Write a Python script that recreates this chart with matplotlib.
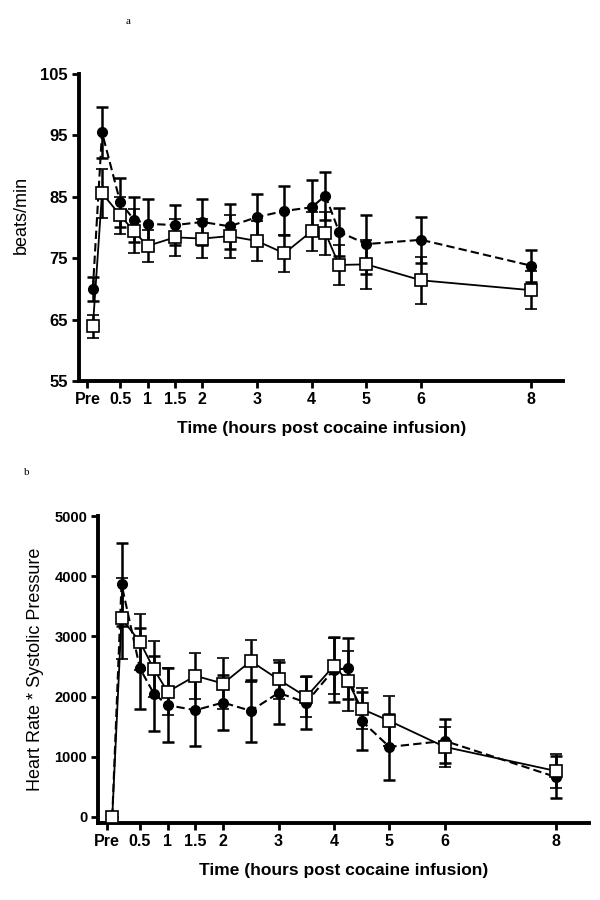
# Heart rate and rate-pressure product after cocaine infusion (panels a and b).
import matplotlib
matplotlib.use('Agg')
import matplotlib.pyplot as plt

# Time points (hours post infusion); 0 is the "Pre" sample.
Hours = [0, 0.167, 0.5, 0.75, 1, 1.5, 2, 2.5, 3, 3.5, 4, 4.25, 4.5, 5, 6, 8]

# Tick positions and labels on the time axis.
Tick_Hours = [-0.1, 0.5, 1, 1.5, 2, 3, 4, 5, 6, 8]
Tick_Labels = ['Pre', '0.5', '1', '1.5', '2', '3', '4', '5', '6', '8']

# Panel a: heart rate (beats/min), filled circles (dashed) and open squares (solid).
HR_Circle = [70.0, 95.5, 84.1, 81.3, 80.6, 80.4, 80.9, 80.2, 81.7, 82.7, 83.3, 85.2, 79.3, 77.3, 78.0, 73.8]
HR_Circle_Err = [2.0, 4.1, 4.0, 3.7, 4.1, 3.2, 3.7, 3.7, 3.8, 4.0, 4.5, 3.9, 3.9, 4.8, 3.7, 2.6]
HR_Square = [63.9, 85.6, 82.0, 79.4, 77.0, 78.4, 78.2, 78.6, 77.8, 75.8, 79.4, 79.1, 73.9, 74.0, 71.4, 69.8]
HR_Square_Err = [1.9, 4.0, 3.0, 3.6, 2.6, 3.0, 3.2, 3.5, 3.3, 3.0, 3.2, 3.5, 3.3, 4.0, 3.8, 3.1]
HR_Ticks = [55, 65, 75, 85, 95, 105]

# Panel b: heart rate * systolic pressure.
RPP_Circle = [0, 3869, 2467, 2051, 1857, 1774, 1901, 1763, 2062, 1901, 2450, 2467, 1596, 1164, 1264, 665]
RPP_Circle_Err = [0, 690, 665, 630, 610, 590, 450, 520, 510, 440, 545, 500, 480, 554, 360, 350]
RPP_Square = [0, 3298, 2910, 2456, 2079, 2345, 2217, 2589, 2284, 1996, 2511, 2256, 1796, 1596, 1164, 765]
RPP_Square_Err = [0, 680, 465, 470, 390, 385, 420, 350, 320, 330, 470, 500, 340, 410, 330, 280]
RPP_Ticks = [0, 1000, 2000, 3000, 4000, 5000]

plt.rcParams['font.family'] = ['Liberation Sans', 'DejaVu Sans']

fig = plt.figure(figsize=(6, 9), dpi=100)
ax_a = fig.add_axes([0.132, 0.5767, 0.807, 0.341])
ax_b = fig.add_axes([0.164, 0.0856, 0.8175, 0.341])


def draw_panel(ax, circ, circ_err, sq, sq_err, yticks, ytick_size):
    # Filled circles with dashed line.
    ax.errorbar(Hours, circ, yerr=circ_err, fmt='o', linestyle=(0, (4, 2)), color='black',
                markersize=7, markerfacecolor='black', linewidth=1.5, elinewidth=1.8,
                capsize=4, capthick=1.8, zorder=2)
    # Open squares with solid line.
    ax.errorbar(Hours, sq, yerr=sq_err, fmt='s', linestyle='-', color='black',
                markersize=8, markerfacecolor='white', markeredgewidth=1.2, linewidth=1.3,
                elinewidth=1.8, capsize=4, capthick=1.8, zorder=3)
    ax.set_xlim(-0.25, 8.6)
    ax.set_xticks(Tick_Hours)
    ax.set_xticklabels(Tick_Labels, fontweight='bold', fontsize=11.5)
    ax.set_yticks(yticks)
    ax.set_yticklabels([str(t) for t in yticks], fontweight='bold', fontsize=ytick_size)
    ax.spines['top'].set_visible(False)
    ax.spines['right'].set_visible(False)
    ax.spines['left'].set_linewidth(2.8)
    ax.spines['bottom'].set_linewidth(2.8)
    ax.tick_params(direction='out', length=5, width=2, pad=3)
    ax.set_xlabel('Time (hours post cocaine infusion)', fontweight='bold', fontsize=12.5, labelpad=10)


# Panel a.
draw_panel(ax_a, HR_Circle, HR_Circle_Err, HR_Square, HR_Square_Err, HR_Ticks, 12)
ax_a.set_ylim(55, 105)
ax_a.set_ylabel('beats/min', fontsize=13)
ax_a.yaxis.set_label_coords(-0.101, 0.54)

# Panel b.
draw_panel(ax_b, RPP_Circle, RPP_Circle_Err, RPP_Square, RPP_Square_Err, RPP_Ticks, 10.5)
ax_b.set_ylim(-100, 5000)
ax_b.set_ylabel('Heart Rate * Systolic Pressure', fontsize=13)
ax_b.yaxis.set_label_coords(-0.111, 0.5)

# Panel letters.
fig.text(128 / 600, 1 - 22 / 900, 'a', family='Liberation Serif', fontsize=8, ha='center', va='center')
fig.text(27 / 600, 1 - 472 / 900, 'b', family='Liberation Serif', fontsize=8, ha='center', va='center')

fig.savefig('out.png', dpi=100)
